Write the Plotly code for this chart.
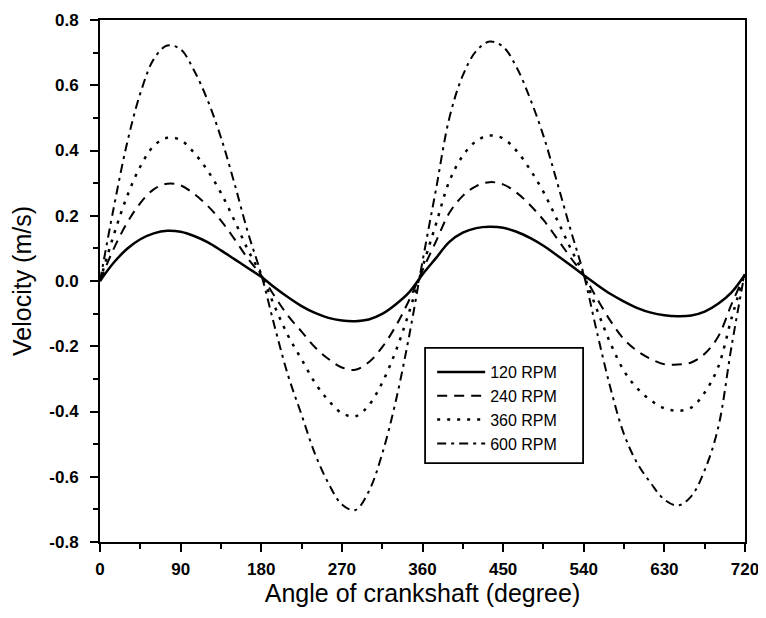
import plotly.graph_objects as go

# crank angle (degree)
angle = [0, 15, 30, 45, 60, 75, 90, 105, 120, 135, 150, 165, 180,
         195, 210, 225, 240, 255, 270, 285, 300, 315, 330, 345, 360,
         375, 390, 405, 420, 435, 450, 465, 480, 495, 510, 525, 540,
         555, 570, 585, 600, 615, 630, 645, 660, 675, 690, 705, 720]

# velocity (m/s)
v120 = [0.0, 0.055, 0.098, 0.128, 0.146, 0.154, 0.151, 0.138, 0.119, 0.094, 0.067, 0.04, 0.013,
        -0.02, -0.05, -0.077, -0.098, -0.113, -0.121, -0.123, -0.118, -0.101, -0.072, -0.035, 0.02,
        0.07, 0.12, 0.148, 0.162, 0.166, 0.163, 0.151, 0.132, 0.108, 0.079, 0.049, 0.018,
        -0.012, -0.04, -0.063, -0.083, -0.097, -0.105, -0.108, -0.106, -0.094, -0.07, -0.035, 0.02]
v240 = [0.0, 0.097, 0.177, 0.239, 0.281, 0.298, 0.293, 0.267, 0.231, 0.185, 0.129, 0.069, 0.017,
        -0.047, -0.107, -0.155, -0.203, -0.239, -0.265, -0.272, -0.249, -0.203, -0.139, -0.059, 0.033,
        0.121, 0.209, 0.261, 0.291, 0.303, 0.296, 0.271, 0.233, 0.187, 0.131, 0.073, 0.017,
        -0.055, -0.123, -0.179, -0.215, -0.239, -0.255, -0.256, -0.25, -0.223, -0.171, -0.071, 0.021]
v360 = [0.0, 0.138, 0.258, 0.351, 0.414, 0.439, 0.432, 0.393, 0.339, 0.27, 0.186, 0.096, 0.018,
        -0.078, -0.168, -0.24, -0.312, -0.366, -0.405, -0.415, -0.381, -0.312, -0.216, -0.096, 0.042,
        0.174, 0.306, 0.384, 0.429, 0.446, 0.437, 0.399, 0.342, 0.273, 0.189, 0.102, 0.018,
        -0.09, -0.192, -0.276, -0.33, -0.366, -0.39, -0.398, -0.388, -0.342, -0.264, -0.114, 0.024]
v600 = [0.0, 0.22, 0.42, 0.575, 0.68, 0.722, 0.71, 0.645, 0.555, 0.44, 0.30, 0.15, 0.02,
        -0.14, -0.29, -0.41, -0.53, -0.62, -0.685, -0.702, -0.645, -0.53, -0.37, -0.17, 0.06,
        0.28, 0.50, 0.63, 0.705, 0.734, 0.718, 0.655, 0.56, 0.445, 0.305, 0.16, 0.02,
        -0.16, -0.33, -0.47, -0.56, -0.62, -0.67, -0.688, -0.66, -0.58, -0.45, -0.2, 0.03]

series = [("120 RPM", v120, "solid", 2.5),
          ("240 RPM", v240, "10px,7px", 2),
          ("360 RPM", v360, "3px,7px", 2.5),
          ("600 RPM", v600, "9px,5px,3px,5px", 2)]

x_ticks = [0, 90, 180, 270, 360, 450, 540, 630, 720]
y_ticks = [-0.8, -0.6, -0.4, -0.2, 0.0, 0.2, 0.4, 0.6, 0.8]
y_ticktext = ["-0.8", "-0.6", "-0.4", "-0.2", "0.0", "0.2", "0.4", "0.6", "0.8"]

fig = go.Figure()
for name, vals, dash, w in series:
    fig.add_trace(go.Scatter(x=angle, y=vals, name=name, mode="lines",
                             line=dict(color="black", width=w, dash=dash, shape="spline")))

font = "Liberation Sans, Arial, sans-serif"
tick_font = dict(size=17, family="Liberation Sans, Arial", weight="bold")

# page body adds ~8px offset, so the figure is a bit smaller than the window
fig.update_layout(
    width=758, height=610,
    margin=dict(l=92, r=21, t=12, b=76),
    paper_bgcolor="white", plot_bgcolor="white",
    font=dict(family=font, color="black"),
    legend=dict(x=0.515, y=0.358, xanchor="left", yanchor="top",
                borderwidth=0, bgcolor="rgba(0,0,0,0)",
                font=dict(size=16), tracegroupgap=0, itemwidth=48),
    showlegend=True,
)
# legend frame
fig.add_shape(type="rect", xref="paper", yref="paper",
              x0=0.504, x1=0.749, y0=0.151, y1=0.372,
              line=dict(color="black", width=1.8), fillcolor="white", layer="below")

fig.update_xaxes(range=[0, 720], tickvals=x_ticks, ticks="outside", ticklen=8,
                 tickwidth=2, tickcolor="black", showline=True, linecolor="black",
                 linewidth=2, mirror=True, showgrid=False, zeroline=False,
                 automargin=False, tickfont=tick_font, ticklabelstandoff=3,
                 minor=dict(dtick=45, ticks="outside", ticklen=5, tickwidth=2,
                            tickcolor="black", showgrid=False),
                 title=dict(text="Angle of crankshaft (degree)", font=dict(size=25), standoff=0))
fig.update_yaxes(range=[-0.8, 0.8], tickvals=y_ticks, ticktext=y_ticktext,
                 ticks="outside", ticklen=8, tickwidth=2, tickcolor="black",
                 showline=True, linecolor="black", linewidth=2, mirror=True,
                 showgrid=False, zeroline=False, automargin=False,
                 tickfont=tick_font, ticklabelstandoff=8,
                 minor=dict(dtick=0.1, ticks="outside", ticklen=5, tickwidth=2,
                            tickcolor="black", showgrid=False),
                 title=dict(text="Velocity (m/s)", font=dict(size=25), standoff=13))

fig.write_html("out.html")
